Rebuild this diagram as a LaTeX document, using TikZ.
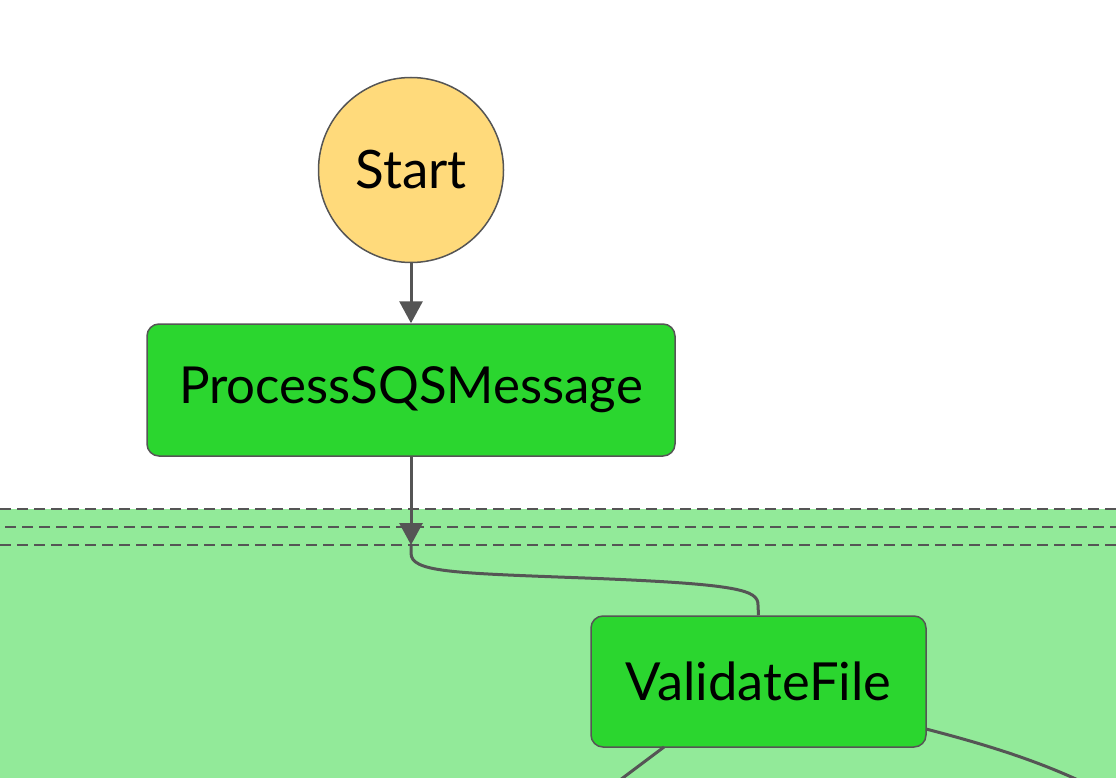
\documentclass[tikz,border=0pt]{standalone}
\usepackage{fontspec}
\setmainfont{Lato}
\usetikzlibrary{arrows.meta}
\definecolor{edgegray}{HTML}{555555}
\definecolor{startfill}{HTML}{FFDA7B}
\definecolor{okgreen}{HTML}{2BD62F}
\definecolor{mapgreen}{HTML}{92EA99}
\tikzset{
  statebox/.style={draw=edgegray, line width=1.5pt, fill=okgreen, rounded corners=12pt, inner sep=0pt, font=\fontsize{51}{56}\selectfont},
  startnode/.style={draw=edgegray, line width=1.5pt, fill=startfill, circle, inner sep=0pt, font=\fontsize{53}{58}\selectfont},
  conn/.style={draw=edgegray, line width=3pt},
  arr/.style={conn, -{Triangle[width=23pt,length=22pt]}},
  mapline/.style={draw=edgegray, line width=2pt, dash pattern=on 11pt off 6pt}
}
\begin{document}
\begin{tikzpicture}[x=1pt,y=-1pt]
\useasboundingbox (0,0) rectangle (1116,778);
% map region
\fill[mapgreen] (0,509) rectangle (1116,778);
\draw[mapline] (0,509) -- (1116,509);
\draw[mapline] (5,527) -- (1116,527);
\draw[mapline] (0,545) -- (1116,545);
% nodes
\node[startnode, minimum size=185pt] (start) at (411,170) {Start};
\node[statebox, minimum width=528pt, minimum height=132pt] (psm) at (411,390) {ProcessSQSMessage};
\node[statebox, minimum width=335pt, minimum height=131pt, font=\fontsize{52.5}{58}\selectfont] (vf) at (758.5,681.5) {ValidateFile};
\coordinate (mapin) at (411,545);
\coordinate (outL) at (620,780);
\coordinate (outR) at (1078,780);
% connectors
\draw[arr] (start.south) -- (psm.north);
\draw[arr] (psm.south) -- (mapin);
\draw[conn] (mapin) -- ++(0,8) .. controls (411,572) and (450,573) .. (585,578)
  .. controls (740,584) and (758,590) .. (758,605) -- (vf.north);
\draw[conn] (664,747) -- (outL);
\draw[conn] (926,729) .. controls (980,743) and (1030,758) .. (outR);
\end{tikzpicture}
\end{document}
